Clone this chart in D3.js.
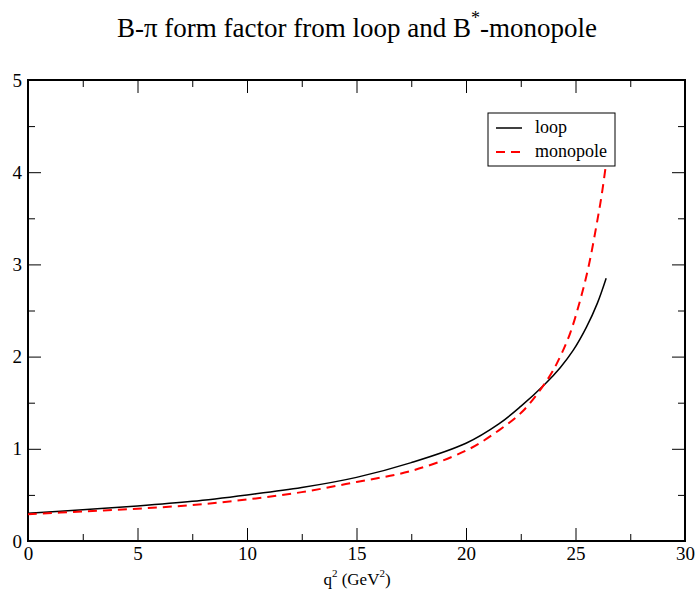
<!DOCTYPE html>
<html>
<head>
<meta charset="utf-8">
<script src="https://cdn.jsdelivr.net/npm/d3@7"></script>
<style>
  body { margin: 0; background: #fff; }
  svg text { font-family: "Liberation Serif", "Times New Roman", "DejaVu Serif", serif !important; fill: #000; }
  .axis text { font-size: 19px; }
  .axis line { stroke: #000; stroke-width: 1; }
  .axis path { display: none; }
</style>
</head>
<body>
<div id="chart"></div>
<script>
// values
var loopQ2 = [0, 2.5, 5, 7.5, 10, 12.5, 15, 17.5, 20, 21.5, 22.5, 23.6, 24.3, 24.9, 25.5, 26.0, 26.4];
var loopF = [0.30, 0.34, 0.38, 0.43, 0.50, 0.58, 0.69, 0.85, 1.06, 1.27, 1.46, 1.70, 1.88, 2.07, 2.32, 2.58, 2.85];

var monoQ2 = [0, 2.5, 5, 7.5, 10, 12.5, 15, 17.5, 20, 21.5, 22.6, 23.8, 24.3, 24.75, 25.2, 25.6, 26.0, 26.2, 26.4];
var monoF = [0.29, 0.32, 0.35, 0.39, 0.45, 0.53, 0.64, 0.76, 0.98, 1.20, 1.41, 1.78, 2.00, 2.25, 2.60, 2.98, 3.48, 3.76, 4.10];

var xTicks = [0, 5, 10, 15, 20, 25, 30];
var yTicks = [0, 1, 2, 3, 4, 5];
var xMinor = [2.5, 7.5, 12.5, 17.5, 22.5, 27.5];
var yMinor = [0.5, 1.5, 2.5, 3.5, 4.5];

var margin = {top: 80, right: 12, bottom: 58, left: 28},
    width = 697 - margin.left - margin.right,
    height = 599 - margin.top - margin.bottom;

var svg = d3.select("#chart").append("svg")
    .attr("width", 697)
    .attr("height", 599);

var g = svg.append("g")
    .attr("transform", "translate(" + margin.left + "," + margin.top + ")");

var x = d3.scaleLinear().domain([0, 30]).range([0, width]);
var y = d3.scaleLinear().domain([0, 5]).range([height, 0]);

// major + minor ticks on all four sides, pointing in
function addAxis(axisFn, tr, ticks, size, labels) {
    var a = axisFn.tickValues(ticks).tickSize(-size).tickPadding(6)
        .tickFormat(labels ? d3.format("d") : "");
    g.append("g")
        .attr("class", "axis")
        .attr("transform", tr)
        .call(a)
        .attr("font-family", "Liberation Serif");
}

addAxis(d3.axisBottom(x), "translate(0," + height + ")", xTicks, 13, true);
addAxis(d3.axisBottom(x), "translate(0," + height + ")", xMinor, 7, false);
addAxis(d3.axisTop(x), "translate(0,0)", xTicks, 13, false);
addAxis(d3.axisTop(x), "translate(0,0)", xMinor, 7, false);
addAxis(d3.axisLeft(y), "translate(0,0)", yTicks, 13, true);
addAxis(d3.axisLeft(y), "translate(0,0)", yMinor, 7, false);
addAxis(d3.axisRight(y), "translate(" + width + ",0)", yTicks, 13, false);
addAxis(d3.axisRight(y), "translate(" + width + ",0)", yMinor, 7, false);

g.append("rect")
    .attr("width", width)
    .attr("height", height)
    .attr("fill", "none")
    .attr("stroke", "#000")
    .attr("stroke-width", 2);

var line = d3.line()
    .x(function(d) { return x(d[0]); })
    .y(function(d) { return y(d[1]); })
    .curve(d3.curveCatmullRom.alpha(0.5));

g.append("path")
    .datum(d3.zip(loopQ2, loopF))
    .attr("fill", "none")
    .attr("stroke", "#000")
    .attr("stroke-width", 1.5)
    .attr("d", line);

g.append("path")
    .datum(d3.zip(monoQ2, monoF))
    .attr("fill", "none")
    .attr("stroke", "#ff0000")
    .attr("stroke-width", 2)
    .attr("stroke-dasharray", "9,6")
    .attr("d", line);

// legend
var legend = svg.append("g").attr("transform", "translate(488,113)");
legend.append("rect")
    .attr("width", 127)
    .attr("height", 53)
    .attr("fill", "#fff")
    .attr("stroke", "#000")
    .attr("stroke-width", 1);
legend.append("line")
    .attr("x1", 8).attr("x2", 34).attr("y1", 15).attr("y2", 15)
    .attr("stroke", "#000").attr("stroke-width", 1.5);
legend.append("line")
    .attr("x1", 8).attr("x2", 34).attr("y1", 39).attr("y2", 39)
    .attr("stroke", "#ff0000").attr("stroke-width", 2)
    .attr("stroke-dasharray", "9,6");
legend.append("text").attr("x", 47).attr("y", 20)
    .attr("font-size", 18).text("loop");
legend.append("text").attr("x", 47).attr("y", 44)
    .attr("font-size", 18).text("monopole");

// title
var title = svg.append("text")
    .attr("x", 357)
    .attr("y", 37)
    .attr("text-anchor", "middle")
    .attr("font-size", 27);
title.append("tspan").text("B-π form factor from loop and B");
title.append("tspan").attr("dy", -13).attr("font-size", 18).text("*");
title.append("tspan").attr("dy", 13).text("-monopole");

// x label
var xl = svg.append("text")
    .attr("x", 357)
    .attr("y", 585)
    .attr("text-anchor", "middle")
    .attr("font-size", 17);
xl.append("tspan").text("q");
xl.append("tspan").attr("dy", -8).attr("font-size", 11).text("2");
xl.append("tspan").attr("dy", 8).text(" (GeV");
xl.append("tspan").attr("dy", -8).attr("font-size", 11).text("2");
xl.append("tspan").attr("dy", 8).text(")");
</script>
</body>
</html>
